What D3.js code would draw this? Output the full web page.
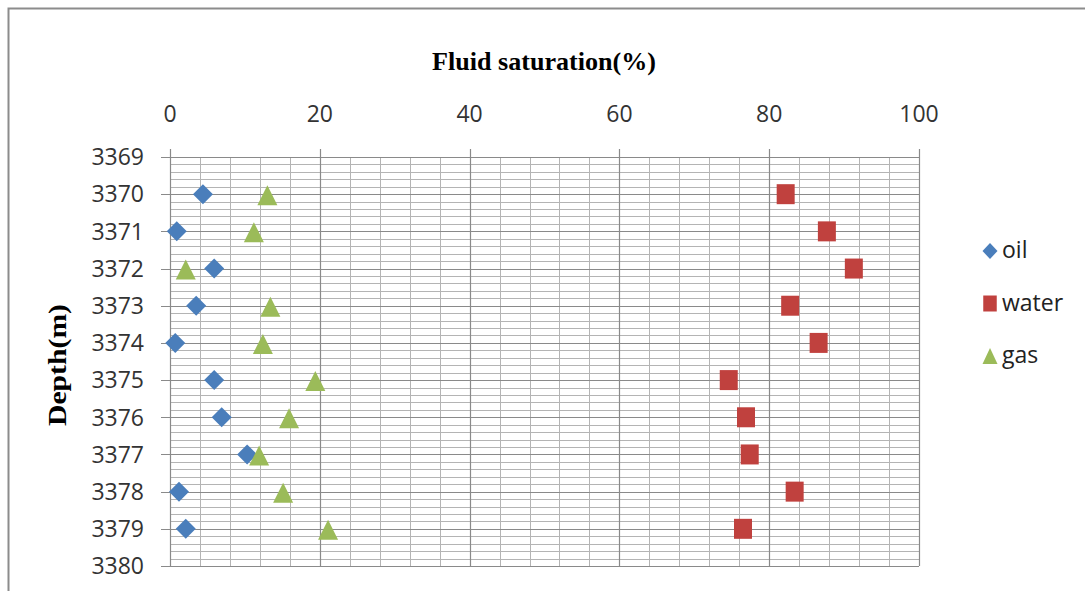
<!DOCTYPE html>
<html>
<head>
<meta charset="utf-8">
<script src="https://cdn.jsdelivr.net/npm/d3@7"></script>
<style>
  body { margin: 0; background: #fff; }
  svg { display: block; }
</style>
</head>
<body>
<div id="chart"></div>
<script>
// depth rows (m)
const depths = [3370, 3371, 3372, 3373, 3374, 3375, 3376, 3377, 3378, 3379];
// saturation (%) per depth
const oil   = [4.4, 0.9, 5.9, 3.5, 0.7, 5.9, 6.9, 10.3, 1.2, 2.1];
const water = [82.2, 87.7, 91.3, 82.8, 86.6, 74.6, 76.9, 77.4, 83.4, 76.5];
const gas   = [13.0, 11.2, 2.1, 13.4, 12.4, 19.4, 15.9, 11.9, 15.1, 21.1];
const xTicks = [0, 20, 40, 60, 80, 100];
const yTicks = [3369, 3370, 3371, 3372, 3373, 3374, 3375, 3376, 3377, 3378, 3379, 3380];

const width = 1085, height = 591;

const svg = d3.select("#chart").append("svg")
    .attr("width", width)
    .attr("height", height);

// outer chart frame
svg.append("rect")
    .attr("x", 8.5).attr("y", 8.5)
    .attr("width", 1100).attr("height", 600)
    .attr("fill", "none").attr("stroke", "#8c8c8c").attr("stroke-width", 2);

const x = d3.scaleLinear().domain([0, 100]).range([170, 919]);
const y = d3.scaleLinear().domain([3369, 3380]).range([157, 566]);

const g = svg.append("g");

// minor grid
const minorX = d3.range(0, 100.01, 4).filter(v => v % 20 !== 0);
const minorY = d3.range(3369, 3380.01, 0.2).filter(v => Math.abs(v - Math.round(v)) > 0.01);

g.append("g").selectAll("line").data(minorX).enter().append("line")
    .attr("x1", d => Math.round(x(d)) + 0.5).attr("x2", d => Math.round(x(d)) + 0.5)
    .attr("y1", y(3369)).attr("y2", y(3380))
    .attr("stroke", "#b4b4b4").attr("stroke-width", 1);

g.append("g").selectAll("line").data(minorY).enter().append("line")
    .attr("x1", x(0)).attr("x2", x(100))
    .attr("y1", d => Math.round(y(d)) + 0.5).attr("y2", d => Math.round(y(d)) + 0.5)
    .attr("stroke", "#b4b4b4").attr("stroke-width", 1);

// major grid
g.append("g").selectAll("line").data(xTicks).enter().append("line")
    .attr("x1", d => Math.round(x(d)) + 0.5).attr("x2", d => Math.round(x(d)) + 0.5)
    .attr("y1", y(3369) - 8).attr("y2", y(3380))
    .attr("stroke", "#8a8a8a").attr("stroke-width", 1.2);

g.append("g").selectAll("line").data(yTicks).enter().append("line")
    .attr("x1", x(0) - 9).attr("x2", x(100))
    .attr("y1", d => Math.round(y(d)) + 0.5).attr("y2", d => Math.round(y(d)) + 0.5)
    .attr("stroke", "#8a8a8a").attr("stroke-width", 1.2);

// tick labels
g.append("g").selectAll("text").data(xTicks).enter().append("text")
    .attr("x", d => x(d)).attr("y", 122)
    .attr("text-anchor", "middle")
    .attr("font-family", "Open Sans, sans-serif").attr("font-size", 23)
    .attr("fill", "#333").text(d => d);

g.append("g").selectAll("text").data(yTicks).enter().append("text")
    .attr("x", 144).attr("y", d => y(d)).attr("dy", "0.36em")
    .attr("text-anchor", "end")
    .attr("font-family", "Open Sans, sans-serif").attr("font-size", 23)
    .attr("fill", "#333").text(d => d);

// axis titles
svg.append("text")
    .attr("x", 544).attr("y", 70)
    .attr("text-anchor", "middle")
    .attr("font-family", "Liberation Serif, serif").attr("font-weight", "bold")
    .attr("font-size", 25)
    .attr("textLength", 224).attr("lengthAdjust", "spacingAndGlyphs")
    .text("Fluid saturation(%)");

svg.append("text")
    .attr("transform", "translate(66,365) rotate(-90)")
    .attr("text-anchor", "middle")
    .attr("font-family", "Liberation Serif, serif").attr("font-weight", "bold")
    .attr("font-size", 25)
    .attr("textLength", 122).attr("lengthAdjust", "spacingAndGlyphs")
    .text("Depth(m)");

// marker shapes, w/h in px, centred on the point
const shapes = {
    diamond:  (w, h) => `M0,${-h / 2}L${w / 2},0L0,${h / 2}L${-w / 2},0Z`,
    square:   (w, h) => `M${-w / 2},${-h / 2}H${w / 2}V${h / 2}H${-w / 2}Z`,
    triangle: (w, h) => `M0,${-h / 2}L${w / 2},${h / 2}L${-w / 2},${h / 2}Z`
};

const series = [
    { name: "oil",   values: oil,   color: "#4a7ebb", shape: "diamond",  w: 20, h: 20, dy: 0 },
    { name: "water", values: water, color: "#c0413e", shape: "square",   w: 18, h: 20, dy: 0 },
    { name: "gas",   values: gas,   color: "#9bbb59", shape: "triangle", w: 20, h: 20, dy: 1 }
];

series.forEach(s => {
    g.append("g").selectAll("path").data(s.values).enter().append("path")
        .attr("d", shapes[s.shape](s.w, s.h))
        .attr("transform", (d, i) => `translate(${x(d)},${y(depths[i]) + s.dy})`)
        .attr("fill", s.color);
});

// legend
const legend = svg.append("g").attr("transform", "translate(990,251)");
series.forEach((s, i) => {
    const row = legend.append("g").attr("transform", `translate(0,${i * 52.5})`);
    row.append("path")
        .attr("d", shapes[s.shape](s.w * 0.75, s.h * 0.8))
        .attr("fill", s.color);
    row.append("text")
        .attr("x", 12).attr("dy", "0.32em")
        .attr("font-family", "Open Sans, sans-serif").attr("font-size", 23)
        .attr("fill", "#222").text(s.name);
});
</script>
</body>
</html>
